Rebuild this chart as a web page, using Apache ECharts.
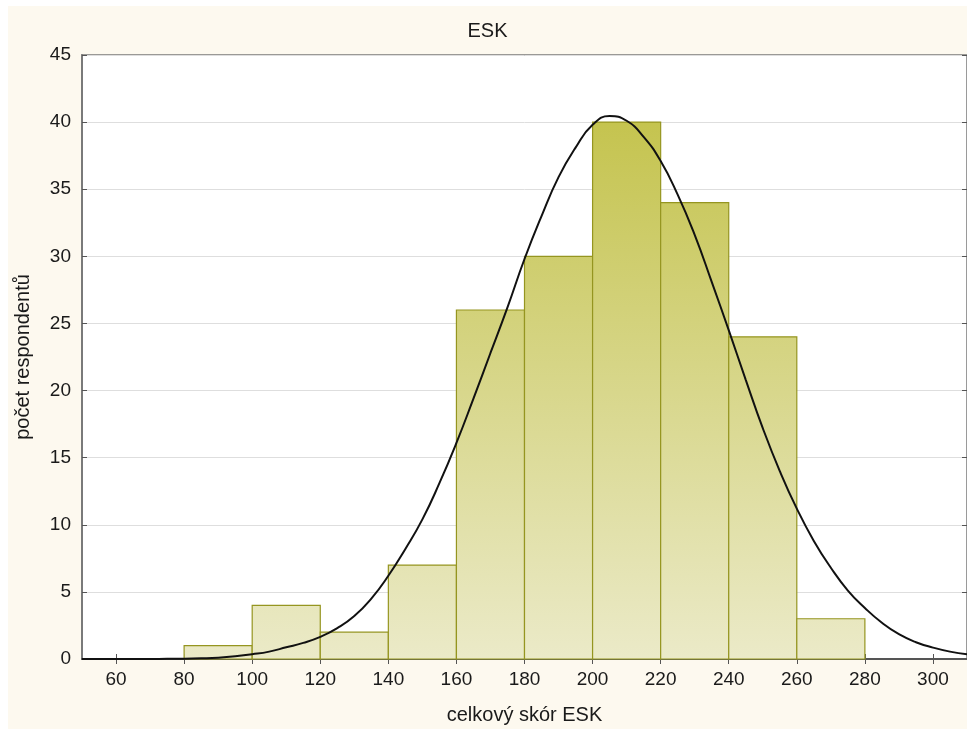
<!DOCTYPE html>
<html>
<head>
<meta charset="utf-8">
<script src="https://cdn.jsdelivr.net/npm/echarts@6/dist/echarts.min.js"></script>
<style>
html,body{margin:0;padding:0;background:#ffffff;width:967px;height:729px;overflow:hidden;}
#chart{position:absolute;left:8px;top:6px;width:959px;height:723px;}
</style>
</head>
<body>
<div id="chart"></div>
<script>
// Histogram bins (lower / upper edges) and counts
const binLower = [80, 100, 120, 140, 160, 180, 200, 220, 240, 260];
const binUpper = [100, 120, 140, 160, 180, 200, 220, 240, 260, 280];
const counts   = [1, 4, 2, 7, 26, 30, 40, 34, 24, 3];

// Fitted normal curve
const curveX = [50, 60, 70, 75, 80, 85, 90, 95, 100, 105, 110, 115, 120, 125, 130, 135, 140, 145, 150, 155,
                160, 165, 170, 175, 180, 185, 190, 195, 200, 205, 210, 215, 220, 225, 230, 235, 240, 245,
                250, 255, 260, 265, 270, 275, 280, 285, 290, 295, 300, 305, 310];
const curveY = [0, 0, 0.005, 0.01, 0.02, 0.05, 0.1, 0.2, 0.35, 0.55, 0.87, 1.2, 1.65, 2.3, 3.2, 4.5, 6.2, 8.2, 10.4, 13.1,
                16.1, 19.4, 22.8, 26.2, 29.8, 33.0, 35.9, 38.1, 39.8, 40.45, 40.1, 38.9, 37.1, 34.6, 31.6, 28.1, 24.5, 20.8,
                17.2, 14.0, 11.2, 8.8, 6.8, 5.1, 3.8, 2.7, 1.85, 1.25, 0.85, 0.55, 0.35];

// Axis ticks
const xTicks = [60, 80, 100, 120, 140, 160, 180, 200, 220, 240, 260, 280, 300];
const xMin = 50, xMax = 310;
const yMin = 0, yMax = 45, yStep = 5;

const titleText = 'ESK';
const xName = 'celkový skór ESK';
const yName = 'počet respondentů';

const barData = binLower.map((lo, i) => [lo, binUpper[i], counts[i]]);
const lineData = curveX.map((x, i) => [x, curveY[i]]);

const chart = echarts.init(document.getElementById('chart'), null, {renderer: 'canvas'});
const fontFam = 'Liberation Sans, Arial, sans-serif';

chart.setOption({
  backgroundColor: '#fdf9ef',
  animation: false,
  title: {
    text: titleText, left: 'center', top: 10,
    textStyle: {fontFamily: fontFam, fontSize: 20, fontWeight: 'normal', color: '#1a1a1a'}
  },
  grid: {
    left: 74, top: 49, right: 0, bottom: 70,
    outerBoundsMode: 'none', containLabel: false,
    show: true, backgroundColor: '#ffffff', borderColor: '#7a7a7a', borderWidth: 1.5
  },
  xAxis: [{
    type: 'value', min: xMin, max: xMax,
    name: xName, nameLocation: 'middle', nameGap: 46,
    nameTextStyle: {fontFamily: fontFam, fontSize: 20, color: '#1a1a1a'},
    axisLine: {show: true, onZero: false, lineStyle: {color: '#555555', width: 2}},
    axisTick: {show: true, inside: true, length: 5, customValues: xTicks, lineStyle: {color: '#555555'}},
    axisLabel: {show: true, customValues: xTicks, margin: 11, fontFamily: fontFam, fontSize: 19, color: '#1a1a1a'},
    splitLine: {show: false}
  }, {
    type: 'value', min: xMin, max: xMax, position: 'top',
    axisLine: {show: false},
    axisTick: {show: true, inside: true, length: 5, customValues: xTicks, lineStyle: {color: '#555555'}},
    axisLabel: {show: false},
    splitLine: {show: false}
  }],
  yAxis: [{
    type: 'value', min: yMin, max: yMax, interval: yStep,
    name: yName, nameLocation: 'middle', nameGap: 49, nameRotate: 90,
    nameTextStyle: {fontFamily: fontFam, fontSize: 20, color: '#1a1a1a'},
    axisLine: {show: true, lineStyle: {color: '#7a7a7a', width: 2}},
    axisTick: {show: true, inside: true, length: 5, lineStyle: {color: '#555555'}},
    axisLabel: {margin: 11, fontFamily: fontFam, fontSize: 19, color: '#1a1a1a'},
    splitLine: {show: true, lineStyle: {color: '#dedede', width: 1}}
  }, {
    type: 'value', min: yMin, max: yMax, interval: yStep, position: 'right',
    axisLine: {show: false},
    axisTick: {show: true, inside: true, length: 5, lineStyle: {color: '#555555'}},
    axisLabel: {show: false},
    splitLine: {show: false}
  }],
  series: [{
    type: 'custom',
    xAxisIndex: 0, yAxisIndex: 0,
    encode: {x: [0, 1], y: 2},
    data: barData,
    z: 2,
    renderItem: function (params, api) {
      const lo = api.value(0), hi = api.value(1), c = api.value(2);
      const pTop = api.coord([lo, c]);
      const pBot = api.coord([hi, 0]);
      const gTop = api.coord([lo, yMax])[1];
      return {
        type: 'rect',
        shape: {x: pTop[0], y: pTop[1], width: pBot[0] - pTop[0], height: pBot[1] - pTop[1]},
        style: {
          fill: new echarts.graphic.LinearGradient(0, gTop, 0, pBot[1], [
            {offset: 0, color: '#c0bf40'},
            {offset: 1, color: '#ebeac8'}
          ], true),
          stroke: '#959520',
          lineWidth: 1.2
        }
      };
    }
  }, {
    type: 'line',
    xAxisIndex: 0, yAxisIndex: 0,
    data: lineData,
    smooth: 0.5,
    showSymbol: false,
    symbol: 'none',
    z: 5,
    clip: true,
    lineStyle: {color: '#111111', width: 2}
  }]
});
</script>
</body>
</html>
